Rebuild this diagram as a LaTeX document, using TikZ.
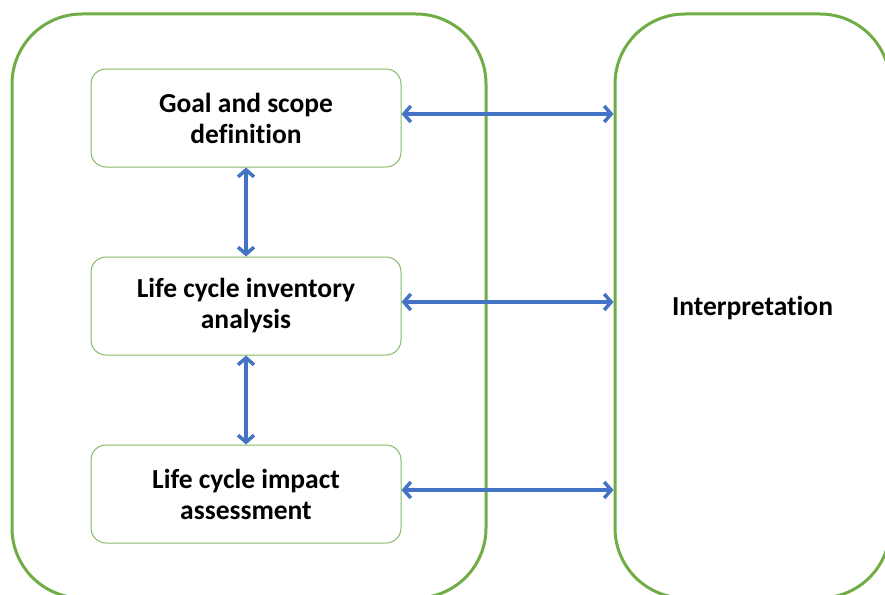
\documentclass[tikz,border=0pt]{standalone}
\usepackage{fontspec}
\setmainfont{Carlito}[Ligatures=NoCommon]
\usetikzlibrary{arrows.meta,positioning}
\definecolor{framegreen}{HTML}{70AD47}
\definecolor{arrowblue}{HTML}{4472C4}
\tikzset{
  frame/.style={draw=framegreen,line width=3pt,rounded corners=70pt,font=\bfseries\fontsize{27.5}{31}\selectfont},
  stagebox/.style={draw=framegreen!85,line width=1pt,rounded corners=15pt,minimum width=310pt,minimum height=98pt,align=center,font=\bfseries\fontsize{27.5}{31}\selectfont},
  biarrow/.style={draw=arrowblue,line width=3.5pt,{Straight Barb[length=7pt,width=16pt]}-{Straight Barb[length=7pt,width=16pt]}}
}
\begin{document}
\begin{tikzpicture}[x=1pt,y=-1pt,node distance=89pt]
  \useasboundingbox (0,0) rectangle (885,594);
  \clip (0,0) rectangle (885,594);
  % outer frames
  \node[frame,minimum width=474pt,minimum height=584pt] (lca) at (249,306) {};
  \node[frame,minimum width=275pt,minimum height=584pt,text depth=0pt] (interp) at (752.5,306) {Interpretation};
  % stages
  \node[stagebox] (goal) at (246,118) {Goal and scope\\definition};
  \node[stagebox,below=of goal] (inventory) {Life cycle inventory\\analysis};
  \node[stagebox,below=of inventory] (impact) {Life cycle impact\\assessment};
  \draw[biarrow] (goal) -- (inventory);
  \draw[biarrow] (inventory) -- (impact);
  \foreach \s in {goal,inventory,impact}
    \draw[biarrow] ([yshift=4pt]\s.east) -- ([yshift=4pt]\s.east -| interp.west);
\end{tikzpicture}
\end{document}
